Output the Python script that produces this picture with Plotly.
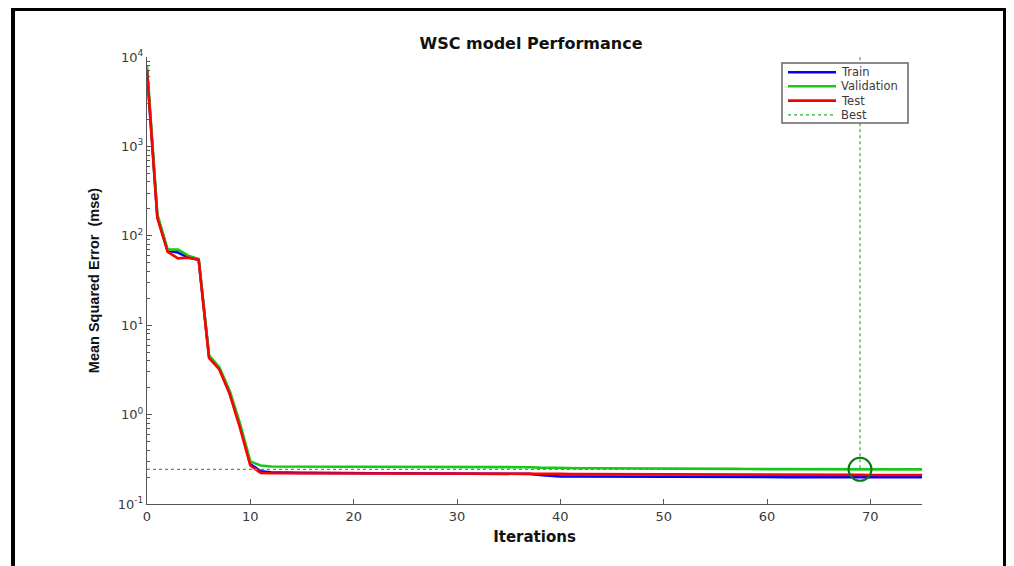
import plotly.graph_objects as go

iterations = list(range(0, 76))

train = [
    7000, 165, 68, 65, 57, 54, 4.5, 3.3, 1.75, 0.75,
    0.28, 0.232, 0.226, 0.224, 0.223, 0.223, 0.223, 0.222, 0.222, 0.222,
    0.222, 0.222, 0.221, 0.221, 0.221, 0.221, 0.221, 0.221, 0.220, 0.220,
    0.220, 0.220, 0.220, 0.220, 0.219, 0.219, 0.219, 0.217, 0.211, 0.206,
    0.203, 0.203, 0.203, 0.202, 0.202, 0.202, 0.202, 0.202, 0.201, 0.201,
    0.201, 0.201, 0.201, 0.201, 0.200, 0.200, 0.200, 0.200, 0.200, 0.200,
    0.200, 0.200, 0.200, 0.199, 0.199, 0.199, 0.199, 0.199, 0.199, 0.199,
    0.199, 0.199, 0.199, 0.199, 0.199, 0.199,
]

validation = [
    8000, 175, 70, 70, 60, 55, 4.6, 3.4, 1.85, 0.80,
    0.30, 0.270, 0.263, 0.262, 0.262, 0.262, 0.262, 0.262, 0.261, 0.261,
    0.261, 0.261, 0.261, 0.261, 0.261, 0.261, 0.260, 0.260, 0.260, 0.260,
    0.260, 0.260, 0.260, 0.260, 0.260, 0.260, 0.259, 0.258, 0.255, 0.253,
    0.252, 0.252, 0.251, 0.251, 0.251, 0.250, 0.250, 0.250, 0.249, 0.249,
    0.249, 0.248, 0.248, 0.248, 0.247, 0.247, 0.247, 0.247, 0.246, 0.246,
    0.246, 0.246, 0.245, 0.245, 0.245, 0.245, 0.245, 0.244, 0.244, 0.244,
    0.244, 0.244, 0.244, 0.244, 0.244, 0.244,
]

test = [
    7200, 158, 66, 56, 57, 54, 4.3, 3.2, 1.70, 0.71,
    0.27, 0.223, 0.221, 0.221, 0.221, 0.221, 0.221, 0.221, 0.220, 0.220,
    0.220, 0.220, 0.220, 0.220, 0.220, 0.220, 0.220, 0.220, 0.220, 0.220,
    0.220, 0.220, 0.220, 0.220, 0.220, 0.220, 0.220, 0.219, 0.218, 0.217,
    0.217, 0.216, 0.216, 0.216, 0.216, 0.215, 0.215, 0.215, 0.215, 0.215,
    0.214, 0.214, 0.214, 0.214, 0.214, 0.213, 0.213, 0.213, 0.213, 0.213,
    0.213, 0.212, 0.212, 0.212, 0.212, 0.212, 0.212, 0.212, 0.212, 0.212,
    0.211, 0.211, 0.211, 0.211, 0.211, 0.211,
]

series_names = ["Train", "Validation", "Test", "Best"]

best_epoch = 69
best_value = 0.244
y_top = 10000

x_ticks = [0, 10, 20, 30, 40, 50, 60, 70]
y_ticks = [0.1, 1, 10, 100, 1000, 10000]
y_ticktext = ["10<sup>-1</sup>", "10<sup>0</sup>", "10<sup>1</sup>",
              "10<sup>2</sup>", "10<sup>3</sup>", "10<sup>4</sup>"]
y_minor = [m * 10 ** e for e in range(-1, 4) for m in range(2, 10)]

AX = "#555555"
TXT = "#3a3a3a"
COLORS = ["#0000ff", "#18c818", "#ff0000", "#2bb32b"]
LW = 2.6

fig = go.Figure()
for name, vals, col in zip(series_names[:3], [train, validation, test], COLORS[:3]):
    fig.add_trace(go.Scatter(x=iterations, y=vals, mode="lines", name=name,
                             line=dict(color=col, width=LW), showlegend=False))
fig.add_trace(go.Scatter(x=[0, best_epoch, best_epoch], y=[best_value, best_value, y_top],
                         mode="lines", name="Best", showlegend=False,
                         line=dict(color=COLORS[3], width=1.2, dash="dot")))
fig.add_trace(go.Scatter(x=[best_epoch], y=[best_value], mode="markers", showlegend=False,
                         marker=dict(symbol="circle-open", size=23, color="#0a7a0a",
                                     line=dict(width=2, color="#0a7a0a"))))

# page is offset by the 8px body margin
W, H = 1006, 558
fig.update_layout(
    width=W, height=H,
    paper_bgcolor="white", plot_bgcolor="white",
    margin=dict(l=139, r=92, t=49, b=62),
    title=dict(text="<b>WSC model Performance</b>", x=523 / W, xanchor="center",
               y=1 - 35 / H, yanchor="middle", yref="container",
               font=dict(family="DejaVu Sans", size=16, color="#111111")),
    showlegend=False,
)

fig.update_xaxes(
    range=[0, 75], tickvals=x_ticks, ticks="inside", ticklen=5, tickcolor=AX,
    showline=True, linecolor=AX, linewidth=1, showgrid=False, zeroline=False,
    tickfont=dict(family="DejaVu Sans", size=13, color=TXT),
    title=dict(text="<b>Iterations</b>", standoff=8,
               font=dict(family="DejaVu Sans", size=15, color="#111111")),
)
fig.update_yaxes(
    type="log", range=[-1, 4], tickvals=y_ticks, ticktext=y_ticktext,
    ticks="inside", ticklen=5, tickcolor=AX,
    minor=dict(tickvals=y_minor, ticks="inside", ticklen=3, tickcolor=AX, showgrid=False),
    showline=True, linecolor=AX, linewidth=1, showgrid=False, zeroline=False,
    tickfont=dict(family="DejaVu Sans", size=13, color=TXT),
    title=dict(text="<b>Mean Squared Error \u00a0(mse)</b>", standoff=14,
               font=dict(family="Liberation Sans", size=14.5, color="#111111")),
)

# helpers: page pixel -> paper coords (plot area: left 147, top 57, 775x447 in page px)
def px(x):
    return (x - 147) / 775

def py(y):
    return (504 - y) / 447

# custom legend (MATLAB-like compact box)
fig.add_shape(type="rect", xref="paper", yref="paper",
              x0=px(782), x1=px(908), y0=py(123), y1=py(63),
              line=dict(color="#666666", width=1.5), fillcolor="white", layer="above")
row_y = [72.3, 86.2, 100.6, 114.8]
for i, (name, col) in enumerate(zip(series_names, COLORS)):
    if name == "Best":
        ln = dict(color=COLORS[3], width=1.2, dash="dot")
    else:
        ln = dict(color=col, width=LW)
    fig.add_shape(type="line", xref="paper", yref="paper",
                  x0=px(788), x1=px(836), y0=py(row_y[i]), y1=py(row_y[i]),
                  line=ln, layer="above")
    fig.add_annotation(text=name, xref="paper", yref="paper", x=px(839), y=py(row_y[i]),
                       xanchor="left", yanchor="middle", showarrow=False,
                       font=dict(family="DejaVu Sans", size=11.5, color=TXT))

# outer black frame
fig.add_shape(type="rect", xref="paper", yref="paper",
              x0=px(13), x1=px(1005), y0=py(600), y1=py(9),
              line=dict(color="black", width=4), fillcolor="rgba(0,0,0,0)", layer="above")

fig.write_html("out.html")
